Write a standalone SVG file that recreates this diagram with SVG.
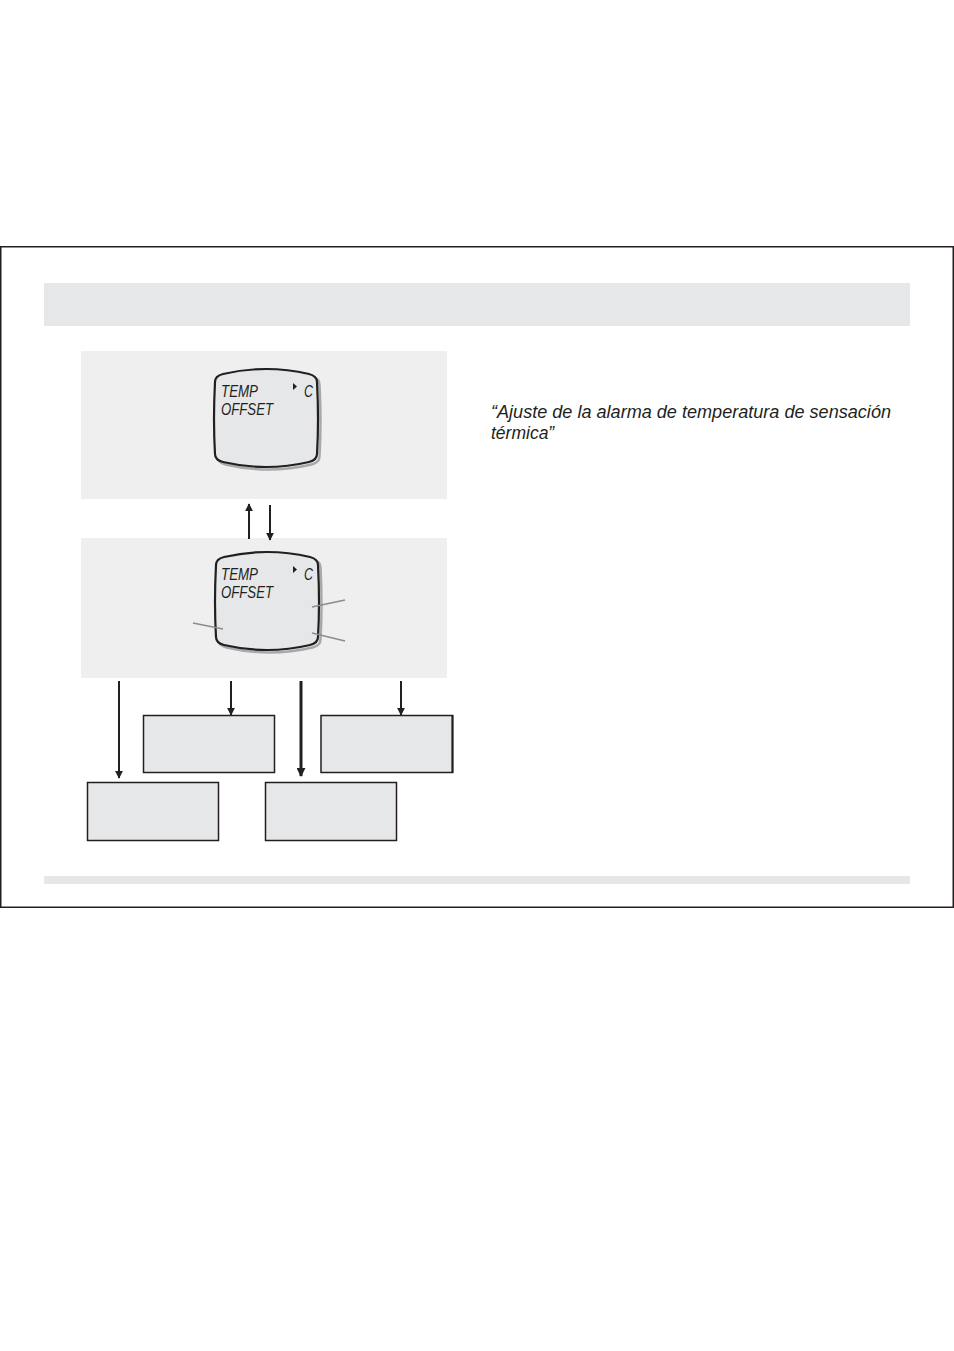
<svg xmlns="http://www.w3.org/2000/svg" width="954" height="1351" viewBox="0 0 954 1351">
<defs>
<style>
.frame{fill:none;stroke:#231f20;stroke-width:1.5}
.band{fill:#e6e7e8}
.panel{fill:#efeff0}
.box{fill:#e6e7e8;stroke:#231f20;stroke-width:1.5}
.lcd{fill:#e6e7e8;stroke:#231f20;stroke-width:2.2}
.shadow{fill:none;stroke:#a7a9ac;stroke-width:2.5}
.lcdt{font-family:"Liberation Sans",Arial,sans-serif;font-style:italic;font-size:17px;fill:#231f20}
.lead{stroke:#8a8c8e;stroke-width:1.5;fill:none}
.arr{stroke:#231f20;stroke-width:2;fill:none}
.arrB{stroke:#231f20;stroke-width:3;fill:none}
.note{font-family:"Liberation Sans",Arial,sans-serif;font-style:italic;font-size:17.5px;fill:#231f20}
</style>
<marker id="ah" viewBox="0 0 10 10" refX="9" refY="5" markerWidth="4" markerHeight="4" orient="auto" markerUnits="strokeWidth"><path d="M0,0 L10,5 L0,10 Z" fill="#231f20"/></marker>
<marker id="ahs" viewBox="0 0 10 10" refX="9" refY="5" markerWidth="3" markerHeight="3" orient="auto" markerUnits="strokeWidth"><path d="M0,0 L10,5 L0,10 Z" fill="#231f20"/></marker>
<path id="lcdshape" d="M4,12 Q4,6 12,4 Q55,-6 98,4 Q106,6 106,12 Q108,50 106,84 Q106,90 98,92 Q55,102 12,92 Q4,90 4,84 Q2,50 4,12 Z"/>
</defs>
<rect class="frame" x="0.75" y="246.75" width="952.5" height="660.5"/>
<rect class="band" x="44" y="283" width="866" height="43"/>
<rect class="band" x="44" y="876" width="866" height="8"/>

<g id="panel1">
<rect class="panel" x="81" y="351" width="366" height="148"/>
<g transform="translate(211,370)">
<use href="#lcdshape" class="shadow" transform="translate(2.5,2.5)"/>
<use href="#lcdshape" class="lcd"/>
</g>
<text class="lcdt" x="221" y="397" textLength="37" lengthAdjust="spacingAndGlyphs">TEMP</text>
<text class="lcdt" x="221" y="415" textLength="52" lengthAdjust="spacingAndGlyphs">OFFSET</text>
<path d="M293,383 L297,386.5 L293,390 Z" fill="#231f20"/>
<text class="lcdt" x="304" y="397" textLength="9" lengthAdjust="spacingAndGlyphs">C</text>
</g>

<g id="panel2">
<rect class="panel" x="81" y="538" width="366" height="140"/>
<g transform="translate(212,553)">
<use href="#lcdshape" class="shadow" transform="translate(2.5,2.5)"/>
<use href="#lcdshape" class="lcd"/>
</g>
<text class="lcdt" x="221" y="580" textLength="37" lengthAdjust="spacingAndGlyphs">TEMP</text>
<text class="lcdt" x="221" y="598" textLength="52" lengthAdjust="spacingAndGlyphs">OFFSET</text>
<path d="M293,566 L297,569.5 L293,573 Z" fill="#231f20"/>
<text class="lcdt" x="304" y="580" textLength="9" lengthAdjust="spacingAndGlyphs">C</text>
<line class="lead" x1="193" y1="623" x2="223" y2="629"/>
<line class="lead" x1="312" y1="607" x2="345" y2="600"/>
<line class="lead" x1="312" y1="633" x2="345" y2="641"/>
</g>

<g id="boxA"><rect class="box" x="143.5" y="715.5" width="131" height="57"/></g>
<g id="boxB"><rect class="box" x="321" y="715.5" width="131.5" height="57"/><line x1="452.5" y1="715" x2="452.5" y2="773" stroke="#231f20" stroke-width="2"/></g>
<g id="boxC"><rect class="box" x="87.5" y="782.5" width="131" height="58"/></g>
<g id="boxD"><rect class="box" x="265.5" y="782.5" width="131" height="58"/></g>

<g id="connectors">
<line class="arr" x1="249" y1="539" x2="249" y2="504" marker-end="url(#ah)" stroke-width="2.5"/>
<line class="arr" x1="270" y1="505" x2="270" y2="540" marker-end="url(#ah)"/>
<line class="arr" x1="119" y1="681" x2="119" y2="778" marker-end="url(#ah)"/>
<line class="arr" x1="231" y1="681" x2="231" y2="715" marker-end="url(#ah)"/>
<line class="arrB" x1="301" y1="681" x2="301" y2="776" marker-end="url(#ahs)"/>
<line class="arr" x1="401" y1="681" x2="401" y2="715" marker-end="url(#ah)"/>
</g>

<g id="note">
<text class="note" x="491" y="418" textLength="400" lengthAdjust="spacingAndGlyphs">“Ajuste de la alarma de temperatura de sensación</text>
<text class="note" x="491" y="439">térmica”</text>
</g>
</svg>
